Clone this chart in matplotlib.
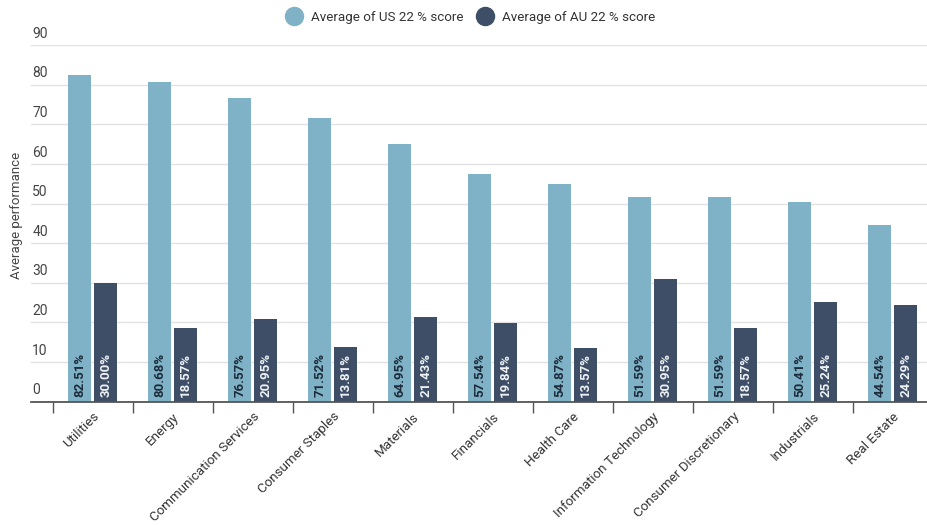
import numpy as np
import matplotlib.pyplot as plt
from matplotlib.lines import Line2D

plt.rcParams['font.family'] = ['Roboto', 'DejaVu Sans']

sectors = ['Utilities', 'Energy', 'Communication Services', 'Consumer Staples',
           'Materials', 'Financials', 'Health Care', 'Information Technology',
           'Consumer Discretionary', 'Industrials', 'Real Estate']
us_score = [82.51, 80.68, 76.57, 71.52, 64.95, 57.54, 54.87, 51.59, 51.59, 50.41, 44.54]
au_score = [30.00, 18.57, 20.95, 13.81, 21.43, 19.84, 13.57, 30.95, 18.57, 25.24, 24.29]
y_ticks = [0, 10, 20, 30, 40, 50, 60, 70, 80, 90]

light = '#7fb2c6'
dark = '#3e4e66'

fig = plt.figure(figsize=(9.28, 5.25), dpi=100)
W, H = 928, 525
ax = fig.add_axes([31 / W, 1 - 401.7 / H, (928 - 31) / W, (401.7 - 45) / H])

x = np.arange(len(sectors))
w = 0.29
off = 0.1625
ax.bar(x - off, us_score, w, color=light, zorder=2)
ax.bar(x + off, au_score, w, color=dark, zorder=2)

# value labels at the foot of each bar
for xi, u, a in zip(x, us_score, au_score):
    ax.text(xi - off, 1.2, f'{u:.2f}%', rotation=90, ha='center', va='bottom',
            fontsize=9.5, fontweight='bold', color='#1d2b3a', zorder=3)
    ax.text(xi + off, 1.2, f'{a:.2f}%', rotation=90, ha='center', va='bottom',
            fontsize=9.5, fontweight='bold', color='#eef2f5', zorder=3)

ax.set_xlim(-0.771, 10.44)
ax.set_ylim(0, 90)

# gridlines with labels sitting above them
for t in y_ticks:
    if t > 0:
        ax.axhline(t, color='#e2e2e2', lw=1, zorder=1)
    ax.text(0.0015, t + 1.1, str(t), transform=ax.get_yaxis_transform(),
            ha='left', va='bottom', fontsize=10, color='#444444')
ax.set_yticks([])

for s in ['top', 'right', 'left']:
    ax.spines[s].set_visible(False)
ax.spines['bottom'].set_color('#555555')
ax.spines['bottom'].set_linewidth(1.3)

ax.set_xticks(x)
ax.set_xticklabels(sectors, rotation=45, ha='right', rotation_mode='anchor',
                   fontsize=9.6, color='#333333')
ax.tick_params(axis='x', which='major', length=0, pad=6)
ax.set_xticks(np.arange(-0.5, 10.5, 1), minor=True)
ax.tick_params(axis='x', which='minor', length=8, width=1, color='#555555')

fig.text(17 / W, 1 - 215 / H, 'Average performance', rotation=90,
         ha='center', va='center', fontsize=9.5, color='#444444')

handles = [Line2D([], [], marker='o', ls='', ms=13, color=light),
           Line2D([], [], marker='o', ls='', ms=13, color=dark)]
fig.legend(handles, ['Average of US 22 % score', 'Average of AU 22 % score'],
           loc='center', bbox_to_anchor=(468 / W, 1 - 17 / H), ncol=2,
           frameon=False, fontsize=9.6, handletextpad=0.3, columnspacing=0.6,
           labelcolor='#333333')

fig.savefig('out.png', dpi=100)
